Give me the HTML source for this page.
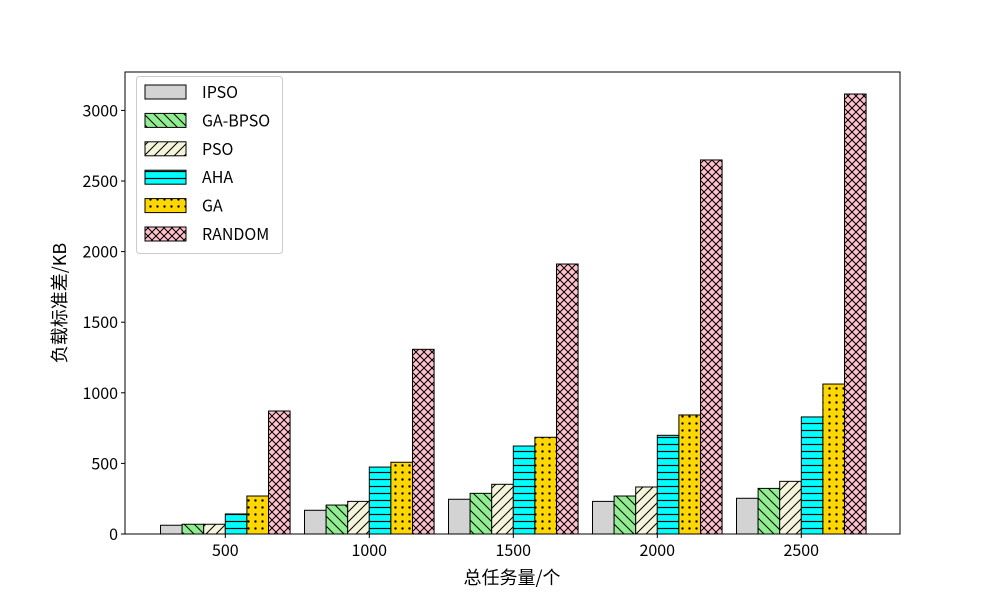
<!DOCTYPE html>
<html><head><meta charset="utf-8">
<style>
body{margin:0;background:#fff;}
svg{display:block;font-family:"WenQuanYi Zen Hei","Noto Sans CJK SC",sans-serif;}
</style></head>
<body>
<svg id="chart" width="1000" height="600" viewBox="0 0 1000 600">
<defs>
<pattern id="p-bs" width="10" height="10" patternUnits="userSpaceOnUse"><rect width="10" height="10" fill="#90ee90"/><path d="M-2,-2 L12,12 M-2,8 L2,12 M8,-2 L12,2" stroke="#000" stroke-width="1"/></pattern>
<pattern id="p-fs" width="10" height="10" patternUnits="userSpaceOnUse"><rect width="10" height="10" fill="#f5f5dc"/><path d="M-2,12 L12,-2 M-2,2 L2,-2 M8,12 L12,8" stroke="#000" stroke-width="1"/></pattern>
<pattern id="p-h" width="8" height="7" patternUnits="userSpaceOnUse"><rect width="8" height="7" fill="#00ffff"/><path d="M0,3.5 L8,3.5" stroke="#000" stroke-width="1.2"/></pattern>
<pattern id="p-d" width="7" height="7" patternUnits="userSpaceOnUse"><rect width="7" height="7" fill="#ffd700"/><circle cx="3.5" cy="3.5" r="1.2" fill="#000"/></pattern>
<pattern id="p-x" width="8" height="8" patternUnits="userSpaceOnUse"><rect width="8" height="8" fill="#ffc0cb"/><path d="M-2,-2 L10,10 M-2,10 L10,-2 M-2,6 L2,10 M6,-2 L10,2 M-2,2 L2,-2 M6,10 L10,6" stroke="#000" stroke-width="1"/></pattern>
</defs>
<g id="plot"></g>
</svg>
<script>
const categories = ["500","1000","1500","2000","2500"];
const seriesNames = ["IPSO","GA-BPSO","PSO","AHA","GA","RANDOM"];
const ipso = [62,168,246,231,253];
const gabpso = [69,205,288,269,323];
const pso = [69,231,352,333,373];
const aha = [142,474,623,699,829];
const ga = [269,508,685,843,1062];
const random = [871,1308,1912,2649,3116];
const yTicks = [0,500,1000,1500,2000,2500,3000];

const series = [ipso,gabpso,pso,aha,ga,random];
const fills = ["#d3d3d3","url(#p-bs)","url(#p-fs)","url(#p-h)","url(#p-d)","url(#p-x)"];
const L=125,R=900,T=72,B=534;
const y = v => B - v*0.1412;
const xc = i => 225.3 + 144*i;
const bw = 21.6;
const NS="http://www.w3.org/2000/svg";
const g=document.getElementById('plot');
function mk(tag,attrs,parent){const e=document.createElementNS(NS,tag);for(const k in attrs)e.setAttribute(k,attrs[k]);(parent||g).appendChild(e);return e;}

series.forEach((s,si)=>{
  s.forEach((v,ci)=>{
    const r=mk('rect',{x:xc(ci)+(si-3)*bw,y:y(v),width:bw,height:B-y(v),fill:fills[si],stroke:'#000','stroke-width':1});
    
    
  });
});
const frame=mk('rect',{x:L,y:T,width:R-L,height:B-T,fill:'none',stroke:'#000','stroke-width':1});


categories.forEach((c,i)=>{
  mk('line',{x1:xc(i),x2:xc(i),y1:B,y2:B+4,stroke:'#000'});
  const t=mk('text',{x:xc(i),y:B+22,'text-anchor':'middle','font-size':16});
  t.textContent=c;
  
  
});
yTicks.forEach(v=>{
  mk('line',{x1:L-4,x2:L,y1:y(v),y2:y(v),stroke:'#000'});
  const t=mk('text',{x:L-7,y:y(v)+6,'text-anchor':'end','font-size':16});
  t.textContent=v;
  
  
});
const xt=mk('text',{x:512,y:584,'text-anchor':'middle','font-size':18});
xt.textContent='总任务量/个';


const yt=mk('text',{x:66,y:303,'text-anchor':'middle','font-size':18,transform:'rotate(-90 66 303)'});
yt.textContent='负载标准差/KB';


const lg=mk('g',{});


mk('rect',{x:136.5,y:76.5,width:146,height:177,rx:3,fill:'#fff',stroke:'#ccc'},lg);
seriesNames.forEach((n,i)=>{
  const yy=85+i*28.4;
  mk('rect',{x:145,y:yy,width:41,height:14,fill:fills[i],stroke:'#000'},lg);
  const t=mk('text',{x:202,y:yy+13,'font-size':16},lg);
  t.textContent=n;
  
  
});
</script>
</body></html>
